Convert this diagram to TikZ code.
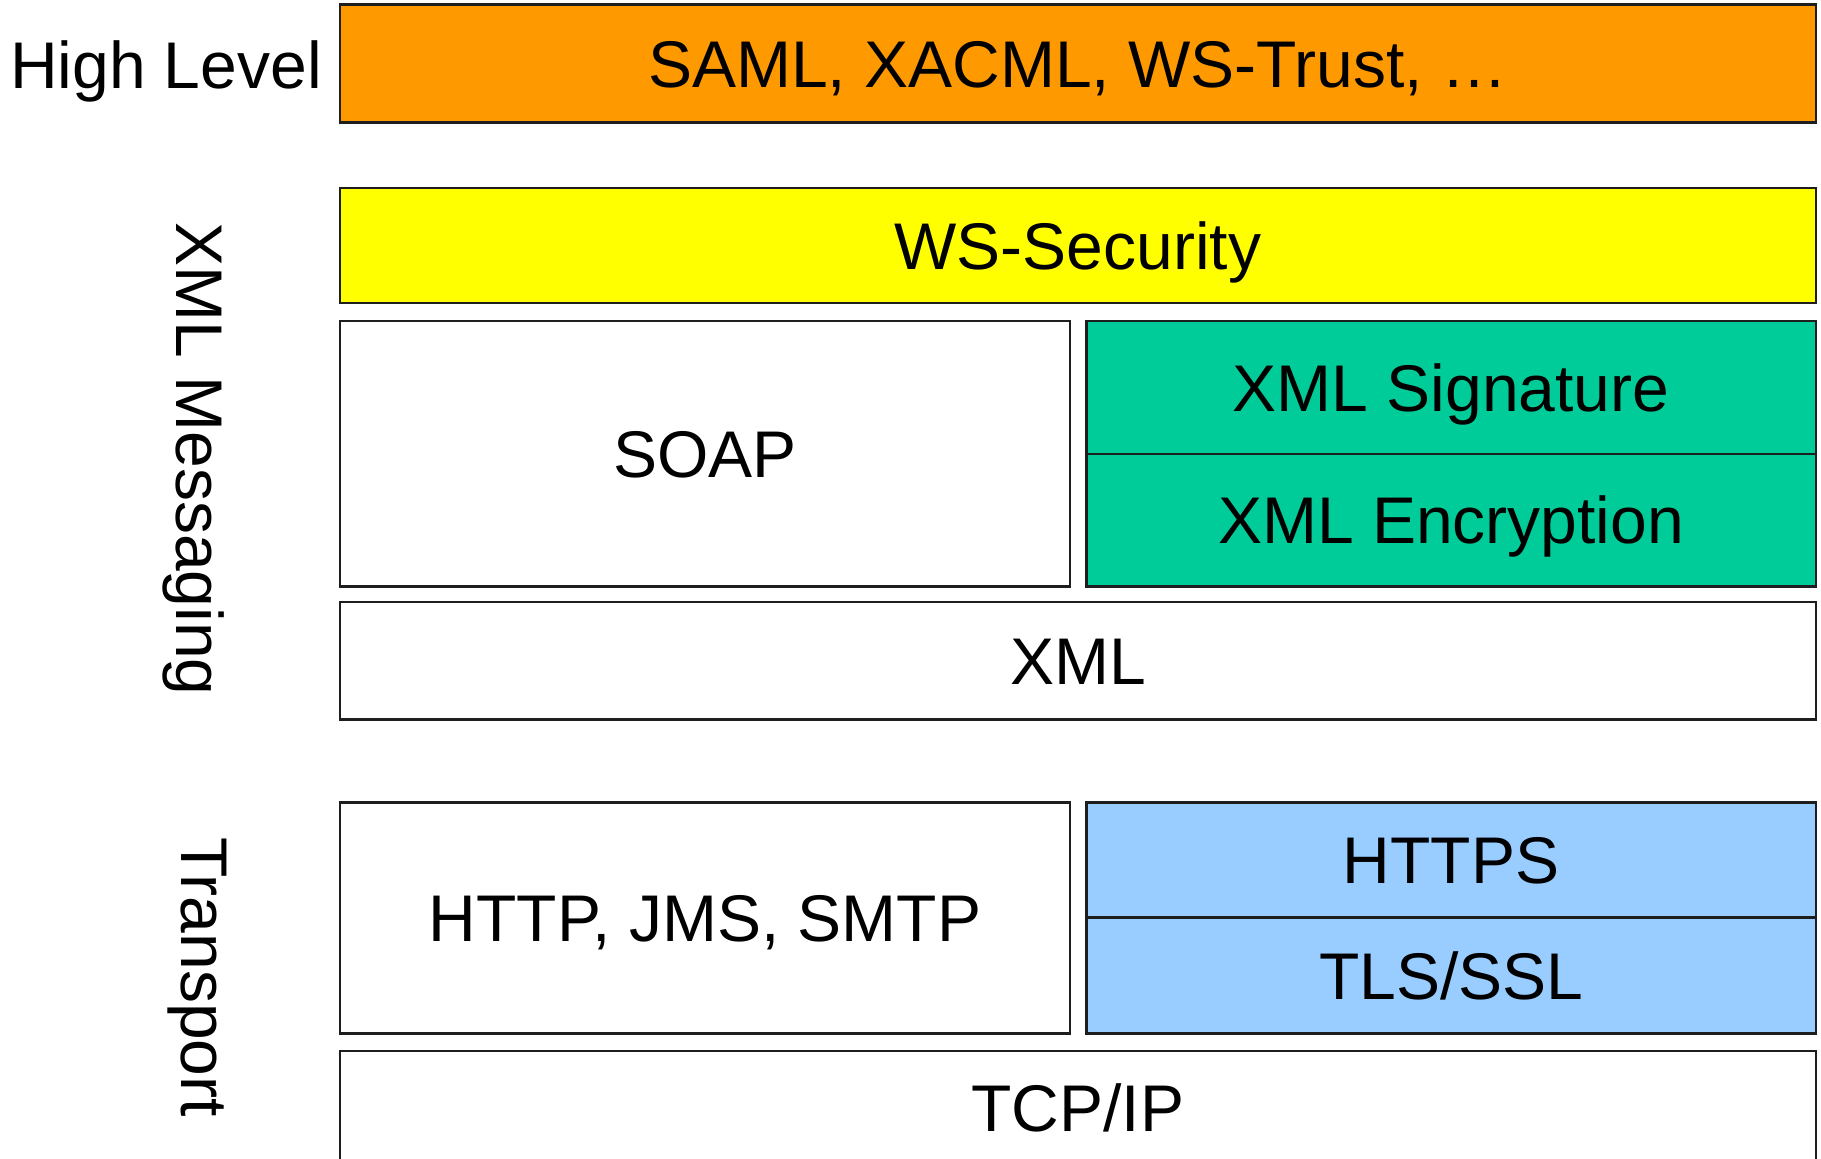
\documentclass[tikz,border=0pt]{standalone}
\usepackage{fontspec}
\setmainfont{Liberation Sans}
\definecolor{hlorange}{HTML}{FF9900}
\definecolor{wsyellow}{HTML}{FFFF00}
\definecolor{xmlgreen}{HTML}{00CC99}
\definecolor{tlsblue}{HTML}{99CCFF}
\definecolor{edge}{HTML}{1E1E1E}
\begin{document}
\begin{tikzpicture}[x=1pt,y=-1pt,
  every node/.style={font=\fontsize{66}{79}\selectfont, text height=47.3pt, text depth=0pt},
  layer/.style={draw=edge, line width=2.4pt, inner sep=0pt, outer sep=0pt, fill=white},
  sidelabel/.style={inner sep=0pt, outer sep=0pt}]
  \useasboundingbox (0,0) rectangle (1821,1159);
  \fill[white] (0,0) rectangle (1821,1159);
  \clip (0,0) rectangle (1821,1159);

  % high level standards
  \node[layer, fill=hlorange, minimum width=1475.7pt, minimum height=118pt] (saml) at (1077.85,63.5) {SAML, XACML, WS-Trust, \dots};

  % XML messaging stack
  \node[layer, fill=wsyellow, minimum width=1475.7pt, minimum height=115pt] (wssec) at (1077.85,245.5) {WS-Security};
  \node[layer, minimum width=730pt, minimum height=265.5pt] (soap) at (705,453.75) {SOAP};
  \node[layer, fill=xmlgreen, minimum width=729.2pt, minimum height=133pt] (sig) at (1451.1,387.5) {XML Signature};
  \node[layer, fill=xmlgreen, minimum width=729.2pt, minimum height=132.5pt] (enc) at (1451.1,520.25) {XML Encryption};
  \node[layer, minimum width=1475.7pt, minimum height=117.5pt] (xml) at (1077.85,660.75) {XML};

  % transport stack
  \node[layer, minimum width=730pt, minimum height=230.8pt] (http) at (705,917.9) {HTTP, JMS, SMTP};
  \node[layer, fill=tlsblue, minimum width=729.2pt, minimum height=115pt] (https) at (1451.1,860) {HTTPS};
  \node[layer, fill=tlsblue, minimum width=729.2pt, minimum height=115.8pt] (tls) at (1451.1,975.4) {TLS/SSL};
  \node[layer, minimum width=1475.7pt, minimum height=114pt] (tcp) at (1077.85,1108) {TCP/IP};

  % group labels
  \node[sidelabel, anchor=west] (lhigh) at (10,65) {High Level};
  \node[sidelabel, rotate=-90] (lmsg) at (200,459) {XML Messaging};
  \node[sidelabel, rotate=-90] (ltrans) at (205,977) {Transport};
\end{tikzpicture}
\end{document}
